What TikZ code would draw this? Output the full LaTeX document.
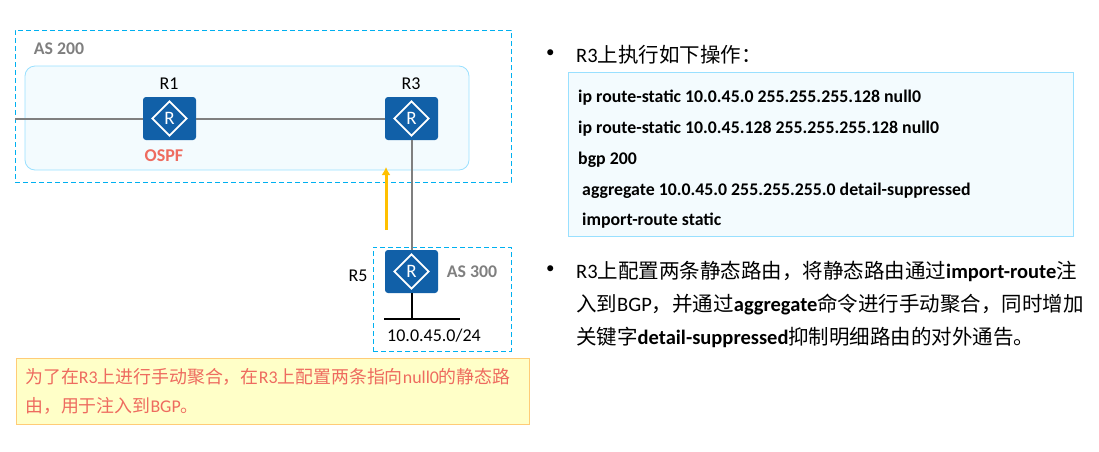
\documentclass[tikz,border=0pt]{standalone}
\usepackage{fontspec}
\setmainfont{Carlito}
\newfontfamily\cjk{Noto Sans CJK SC}
\usetikzlibrary{arrows.meta,calc,positioning,shapes.geometric}
\definecolor{routerblue}{HTML}{1160A8}
\definecolor{asblue}{HTML}{00B0F0}
\definecolor{arealine}{HTML}{99E0FF}
\definecolor{areafill}{HTML}{F3FBFE}
\definecolor{notered}{HTML}{EE6B5F}
\definecolor{notefill}{HTML}{FFFFC8}
\definecolor{noteline}{HTML}{FFCC77}
\definecolor{linkgray}{HTML}{7F7F7F}
\definecolor{arrowyellow}{HTML}{FFC000}
\begin{document}
\begin{tikzpicture}[
  x=1pt,
  y=-1pt,
  asbox/.style={
    draw=asblue,
    dash pattern=on 5pt off 3pt,
    line width=.7pt,
    minimum width=#1
  },
  area/.style={
    draw=arealine,
    fill=areafill,
    line width=.8pt,
    rounded corners=10pt,
    minimum width=444pt,
    minimum height=104pt
  },
  router/.style={
    fill=routerblue,
    rounded corners=3pt,
    minimum width=53pt,
    minimum height=43pt
  },
  routermark/.style={
    diamond,
    draw=white,
    line width=1.8pt,
    aspect=1,
    minimum size=35pt,
    inner sep=0pt,
    text=white,
    font=\fontsize{19}{19}\selectfont
  },
  devlabel/.style={
    font=\fontsize{18}{20}\selectfont
  },
  aslabel/.style={
    font=\fontsize{17.8}{20}\selectfont\bfseries,
    text=linkgray
  },
  link/.style={
    draw=linkgray,
    line width=2pt
  },
  lan/.style={
    draw=black,
    line width=2pt
  },
  body/.style={
    anchor=west,
    align=left,
    inner sep=0pt,
    font=\fontsize{20.5}{33}\selectfont
  },
  bullet/.style={
    anchor=west,
    inner sep=0pt,
    font=\fontsize{17}{17}\selectfont
  }
]
\useasboundingbox (0,0) rectangle (1099,451);

% Autonomous systems
\node[asbox=496pt,minimum height=152pt] (as200) at (263,106) {};
\node[area] (ospf) at (247,118) {};
\node[asbox=138pt,minimum height=104pt] (as300) at (442,299) {};

\node[router] (r1) at (169.5,118.5) {};
\node[router] (r3) at (411.5,118.5) {};
\node[router] (r5) at (411.5,271.5) {};
\node[routermark] (r1mark) at (r1) {R};
\node[routermark] (r3mark) at (r3) {R};
\node[routermark] (r5mark) at (r5) {R};

\coordinate (west) at (15,118.5);
\coordinate (lanleft) at (384,319);
\coordinate (lanright) at (460,319);
\coordinate (lanstem) at (411.5,319);
\coordinate (arrowfrom) at (386,230);
\coordinate (arrowto) at (386,167);

% Links
\draw[link] (west) -- (r1);
\draw[link] (r1) -- (r3);
\draw[link] (r3) -- (r5);
\draw[lan] (r5) -- (lanstem);
\draw[lan] (lanleft) -- (lanright);
\draw[-{Latex[length=8pt,width=9pt]},arrowyellow,line width=3pt] (arrowfrom) -- (arrowto);

\node[devlabel] (r1name) at (169,84) {R1};
\node[devlabel] (r3name) at (411,84) {R3};
\node[devlabel] (r5name) at (358,276) {R5};
\node[devlabel] (lanname) at (434,336) {10.0.45.0/24};
\node[aslabel] (as200name) at (59,49) {AS 200};
\node[aslabel] (as300name) at (472,272) {AS 300};
\node[aslabel,text=notered,font=\fontsize{18}{20}\selectfont\bfseries] (ospfname) at (164,156) {OSPF};

% Note under the topology
\node[
  draw=noteline,
  fill=notefill,
  line width=.8pt,
  minimum width=513pt,
  minimum height=66pt
] (notebox) at (272.5,391) {};
\node[
  anchor=west,
  align=left,
  inner sep=0pt,
  text=notered,
  font=\fontsize{17.9}{29}\selectfont
] (notetext) at (25,391) {{\cjk 为了在}R3{\cjk 上进行手动聚合，在}R3{\cjk 上配置两条指向}null0{\cjk 的静态路}\\{\cjk 由，用于注入到}BGP{\cjk 。}};

% Right column
\node[bullet] (dotone) at (546,54) {•};
\node[body] (stepone) at (576,55) {R3{\cjk 上执行如下操作：}};
\node[
  draw=arealine,
  fill=areafill,
  line width=.8pt,
  minimum width=505pt,
  minimum height=164pt
] (codebox) at (820.5,154) {};
\node[
  anchor=west,
  align=left,
  inner sep=0pt,
  font=\fontsize{17.8}{30.8}\selectfont\bfseries
] (codetext) at (578,159.5) {ip route-static 10.0.45.0 255.255.255.128 null0\\
ip route-static 10.0.45.128 255.255.255.128 null0\\
bgp 200\\
\hspace{4pt}aggregate 10.0.45.0 255.255.255.0 detail-suppressed\\
\hspace{4pt}import-route static};

\node[bullet] (dottwo) at (546,270) {•};
\node[body] (steptwo) at (576,304) {R3{\cjk 上配置两条静态路由，将静态路由通过}\textbf{import-route}{\cjk 注}\\
{\cjk 入到}BGP{\cjk ，并通过}\textbf{aggregate}{\cjk 命令进行手动聚合，同时增加}\\
{\cjk 关键字}\textbf{detail-suppressed}{\cjk 抑制明细路由的对外通告。}};
\end{tikzpicture}
\end{document}
